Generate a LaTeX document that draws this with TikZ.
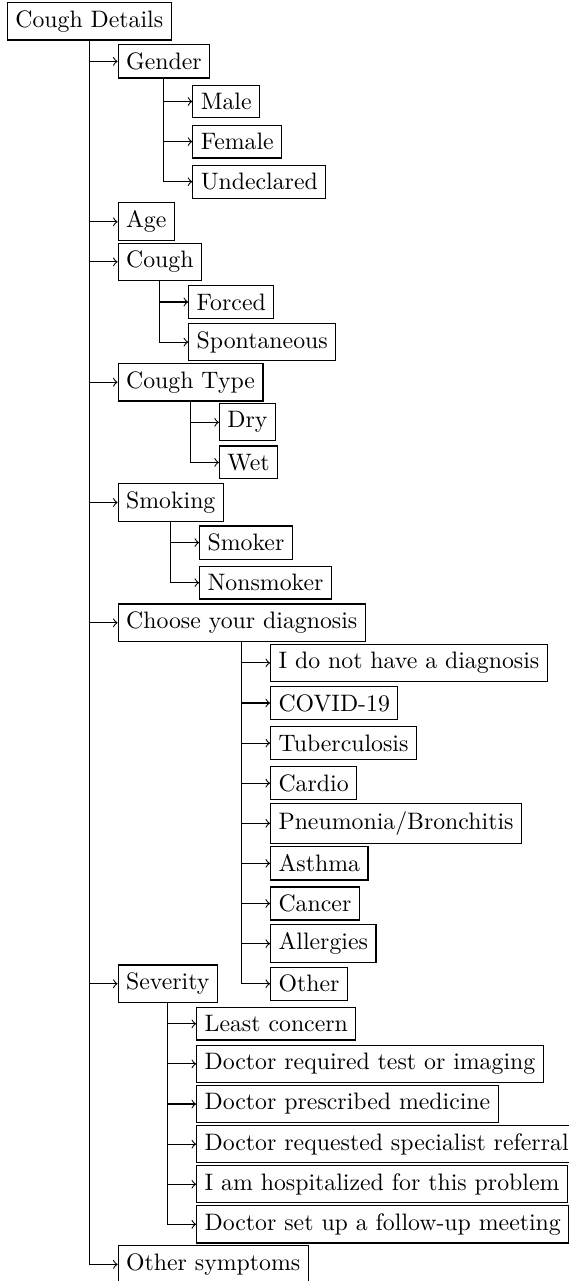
\documentclass[tikz,border=0pt]{standalone}
\tikzset{
  box/.style={draw, line width=0.5pt, inner sep=3.33pt, anchor=west},
  arr/.style={->, line width=0.45pt}
}
\newcommand\kid[4]{%
  \coordinate (tmp) at ([xshift=11.9pt]#2.south);
  \pgfmathsetmacro\yy{21.3+40.1*#3}
  \node[box] (#1) at (tmp |- 0,\yy) {#4};
  \draw[arr] (#2.south) |- (#1.west);
}
\begin{document}
\begin{tikzpicture}[x=0.42017pt,y=-0.42017pt]
\path[use as bounding box, clip] (0,0) rectangle (569,1281);
\node[box] (root) at (6.8,21.3) {Cough Details};
\kid{gender}{root}{1}{Gender}
\kid{male}{gender}{2}{Male}
\kid{female}{gender}{3}{Female}
\kid{undecl}{gender}{4}{Undeclared}
\kid{age}{root}{5}{Age}
\kid{cough}{root}{6}{Cough}
\kid{forced}{cough}{7}{Forced}
\kid{spont}{cough}{8}{Spontaneous}
\kid{ctype}{root}{9}{Cough Type}
\kid{dry}{ctype}{10}{Dry}
\kid{wet}{ctype}{11}{Wet}
\kid{smoking}{root}{12}{Smoking}
\kid{smoker}{smoking}{13}{Smoker}
\kid{nonsmoker}{smoking}{14}{Nonsmoker}
\kid{diag}{root}{15}{Choose your diagnosis}
\kid{nodiag}{diag}{16}{I do not have a diagnosis}
\kid{covid}{diag}{17}{COVID-19}
\kid{tb}{diag}{18}{Tuberculosis}
\kid{cardio}{diag}{19}{Cardio}
\kid{pneu}{diag}{20}{Pneumonia/Bronchitis}
\kid{asthma}{diag}{21}{Asthma}
\kid{cancer}{diag}{22}{Cancer}
\kid{allerg}{diag}{23}{Allergies}
\kid{other}{diag}{24}{Other}
\kid{sev}{root}{24}{Severity}
\kid{least}{sev}{25}{Least concern}
\kid{test}{sev}{26}{Doctor required test or imaging}
\kid{med}{sev}{27}{Doctor prescribed medicine}
\kid{spec}{sev}{28}{Doctor requested specialist referral}
\kid{hosp}{sev}{29}{I am hospitalized for this problem}
\kid{follow}{sev}{30}{Doctor set up a follow-up meeting}
\kid{othsym}{root}{31}{Other symptoms}
\end{tikzpicture}
\end{document}
